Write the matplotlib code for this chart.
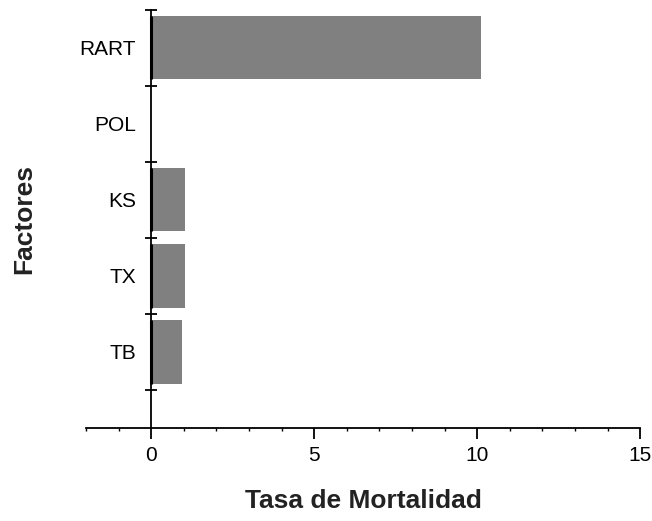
import matplotlib
matplotlib.use("Agg")
import matplotlib.pyplot as plt
import numpy as np

categories = ["TB", "TX", "KS", "POL", "RART"]
values = [0.95, 1.05, 1.05, 0.0, 10.1]
x_ticks = [0, 5, 10, 15]

plt.rcParams['font.family'] = ['Liberation Sans', 'DejaVu Sans']

fig = plt.figure(figsize=(6.52, 5.21), dpi=100)
ax = fig.add_axes([0.132, 0.1785, 0.85, 0.8025])

pos = np.arange(len(categories))
h = 0.83
ax.barh(pos, values, height=h, color='#808080', edgecolor='none', zorder=2)
# thick dark edge at the base of each non-zero bar
for p, v in zip(pos, values):
    if v > 0:
        ax.vlines(0, p - h / 2, p + h / 2, color='black', lw=2.2, zorder=3)

ax.set_xlim(-2, 15)
ax.set_ylim(-1, len(categories) - 0.5)

for s in ['top', 'right']:
    ax.spines[s].set_visible(False)
ax.spines['left'].set_position(('data', 0))
ax.spines['left'].set_bounds(-1, len(categories) - 0.5)
ax.spines['left'].set_linewidth(1.3)
ax.spines['bottom'].set_linewidth(1.3)

# y: boundaries as major ticks, labels at minor (centers)
ax.set_yticks(np.arange(-0.5, len(categories), 1.0))
ax.set_yticklabels([])
ax.set_yticks(pos, minor=True)
ax.set_yticklabels(categories, minor=True, fontsize=15)
ax.tick_params(axis='y', which='major', direction='inout', length=8, width=1.3)
ax.tick_params(axis='y', which='minor', length=0, pad=11)

ax.set_xticks(x_ticks)
ax.set_xticklabels([str(t) for t in x_ticks], fontsize=15)
ax.set_xticks(np.arange(-2, 16, 1), minor=True)
ax.tick_params(axis='x', which='major', direction='out', length=8, width=1.3, pad=5)
ax.tick_params(axis='x', which='minor', direction='out', length=2.5, width=1.0)

ax.set_xlabel("Tasa de Mortalidad", fontsize=19, fontweight='bold', color='#222222')
ax.xaxis.label.set_va('center')
ax.xaxis.set_label_coords(0.5, -0.175)
ax.set_ylabel("Factores", fontsize=19, fontweight='bold', color='#222222')
ax.yaxis.label.set_va('center')
ax.yaxis.set_label_coords(-0.112, 0.5)

fig.savefig("out.png", dpi=100)
